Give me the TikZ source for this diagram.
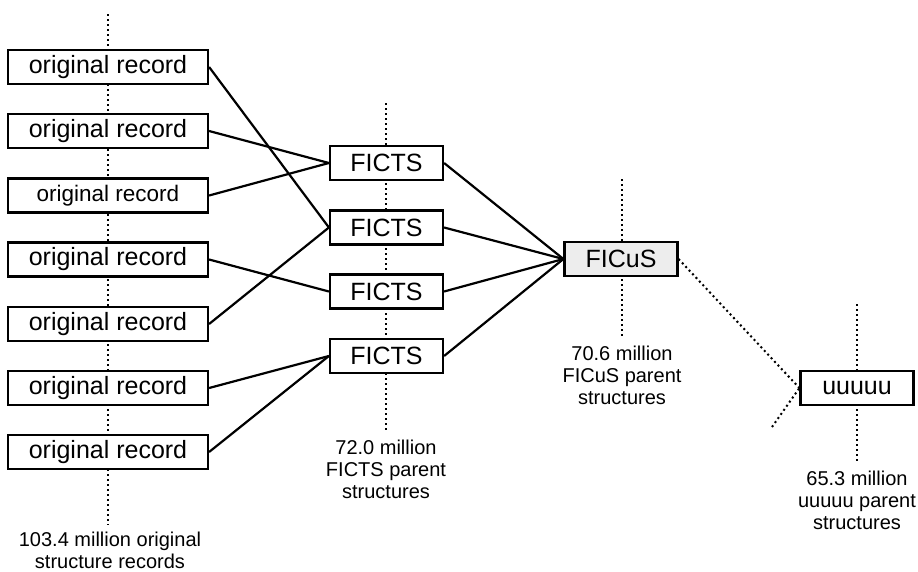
\documentclass[tikz,border=0pt]{standalone}
\usepackage{fontspec}
\setmainfont{Liberation Sans}
\begin{document}
\begin{tikzpicture}[x=1pt,y=-1pt,
  box/.style={draw,line width=2.2pt,fill=white,minimum height=34pt,inner sep=0pt,font=\fontsize{25}{26}\selectfont},
  orbox/.style={box,minimum width=200pt},
  fbox/.style={box,minimum width=113pt},
  conn/.style={line width=2.2pt},
  dotline/.style={line width=2pt,dash pattern=on 2pt off 3pt},
  lbl/.style={align=center,font=\fontsize{20}{22}\selectfont,inner sep=0pt}]
\useasboundingbox (0,0) rectangle (918,571);
% dotted axes
\draw[dotline] (108,14) -- (108,525);
\draw[dotline] (386,103) -- (386,430);
\draw[dotline] (622,179) -- (622,337);
\draw[dotline] (857,304) -- (857,463);
% original records
\node[orbox] (o1) at (108,67) {original record};
\node[orbox] (o2) at (108,131) {original record};
\node[orbox,font=\fontsize{22.5}{24}\selectfont] (o3) at (108,195.5) {original record};
\node[orbox] (o4) at (108,259.5) {original record};
\node[orbox] (o5) at (108,324) {original record};
\node[orbox] (o6) at (108,388) {original record};
\node[orbox] (o7) at (108,452) {original record};
% FICTS
\node[fbox] (f1) at (386.5,163) {FICTS};
\node[fbox] (f2) at (386.5,227.5) {FICTS};
\node[fbox] (f3) at (386.5,291.5) {FICTS};
\node[fbox] (f4) at (386.5,356) {FICTS};
% FICuS
\node[fbox,fill=black!7] (fc) at (621,259) {FICuS};
% uuuuu
\node[fbox] (u) at (857,388) {uuuuu};
\coordinate (ufree) at (772,427);
% connectors
\draw[conn] (o1.east) -- (f2.west);
\draw[conn] (o2.east) -- (f1.west);
\draw[conn] (o3.east) -- (f1.west);
\draw[conn] (o4.east) -- (f3.west);
\draw[conn] (o5.east) -- (f2.west);
\draw[conn] (o6.east) -- (f4.west);
\draw[conn] (o7.east) -- (f4.west);
\foreach \i in {1,2,3,4} \draw[conn] (f\i.east) -- (fc.west);
\draw[dotline] (fc.east) -- (u.west);
\draw[dotline] (ufree) -- (u.west);
% labels
\node[lbl] (l1) at (110,550) {103.4 million original\\structure records};
\node[lbl] (l2) at (386,469) {72.0 million\\FICTS parent\\structures};
\node[lbl] (l3) at (622,375) {70.6 million\\FICuS parent\\structures};
\node[lbl] (l4) at (857,500) {65.3 million\\uuuuu parent\\structures};
\end{tikzpicture}
\end{document}
